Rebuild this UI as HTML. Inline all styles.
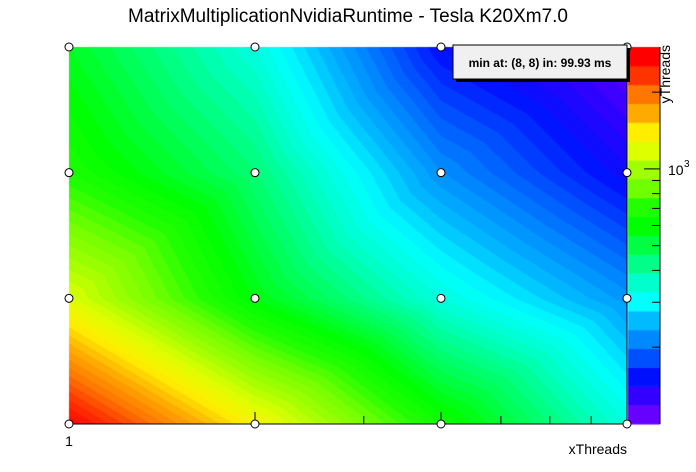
<!DOCTYPE html>
<html><head><meta charset="utf-8"><style>
body{margin:0;background:#fff;width:696px;height:472px;overflow:hidden;font-family:"Liberation Sans",sans-serif;}
#wrap{position:relative;width:696px;height:472px;}
canvas{position:absolute;left:0;top:0;}
</style></head><body>
<div id="wrap">
<canvas id="cv" width="696" height="472"></canvas>
<svg id="sv" width="696" height="472" style="position:absolute;left:0;top:0"></svg>
</div>
<script>
const xCats=[1,2,4,8];
const yCats=[1,2,4,8];
// rows: y=1,2,4,8 ; columns x=1,2,4,8 (ms)
const zRow1=[3000,1396,650,329];
const zRow2=[1240,577,329,215];
const zRow4=[685,440,210,135];
const zRow8=[548,329,140,99.93];
const zMin=99.93, zMax=3006;
const palette=["#6600ff","#3300ff","#0010ff","#0050ff","#0088ff","#00bbff","#00ffff","#00ffcc","#00ff88","#00ff44","#00ff00","#22ff00","#70ff00","#a0ff00","#ddff00","#ffee00","#ffaa00","#ff7700","#ff3300","#ff0000"];
const zTicksMinor=[200,300,400,500,600,700,800,900,2000];
const nContours=60;

const L=69,R=627,T=47,B=424;
const grid=[zRow1,zRow2,zRow4,zRow8];
const lx=v=>L+(Math.log2(v)-Math.log2(xCats[0]))/(Math.log2(xCats[3])-Math.log2(xCats[0]))*(R-L);
const ly=v=>B-(Math.log2(v)-Math.log2(yCats[0]))/(Math.log2(yCats[3])-Math.log2(yCats[0]))*(B-T);
const zy=v=>B-(Math.log10(v)-Math.log10(zMin))/(Math.log10(zMax)-Math.log10(zMin))*(B-T);
const frac=lv=>Math.max(0,Math.min(0.9999,(lv-Math.log10(zMin))/(Math.log10(zMax)-Math.log10(zMin))));
function hex(h){return [parseInt(h.substr(1,2),16),parseInt(h.substr(3,2),16),parseInt(h.substr(5,2),16)];}
const palRGB=palette.map(hex);
function colorAt(f){const q=Math.floor(f*nContours);const t=(q+0.5)/nContours*(palette.length-1);
 const a=Math.floor(t),b=Math.min(palette.length-1,a+1),u=t-a;const A=palRGB[a],Bc=palRGB[b];
 return 'rgb('+Math.round(A[0]+(Bc[0]-A[0])*u)+','+Math.round(A[1]+(Bc[1]-A[1])*u)+','+Math.round(A[2]+(Bc[2]-A[2])*u)+')';}

const ctx=document.getElementById('cv').getContext('2d');
const n=xCats.length-1;
const lg=grid.map(r=>r.map(v=>Math.log10(v)));
for(let py=T;py<B;py++){for(let px=L;px<R;px++){
  const gx=(px+0.5-L)/(R-L)*n, gy=(B-(py+0.5))/(B-T)*n;
  const i=Math.min(n-1,Math.floor(gx)), j=Math.min(n-1,Math.floor(gy));
  const fx=gx-i, fy=gy-j;
  let v;
  if(fx>=fy) v=lg[j][i]+(lg[j][i+1]-lg[j][i])*fx+(lg[j+1][i+1]-lg[j][i+1])*fy;
  else v=lg[j][i]+(lg[j+1][i]-lg[j][i])*fy+(lg[j+1][i+1]-lg[j+1][i])*fx;
  ctx.fillStyle=colorAt(frac(v));ctx.fillRect(px,py,1,1);
}}
const bh=(B-T)/palette.length;
for(let k=0;k<palette.length;k++){ctx.fillStyle=palette[k];ctx.fillRect(628,B-(k+1)*bh,32,bh+0.5);}

const sv=document.getElementById('sv');const NS='http://www.w3.org/2000/svg';
function mk(tag,at,txt){const e=document.createElementNS(NS,tag);for(const k in at)e.setAttribute(k,at[k]);if(txt!==undefined)e.textContent=txt;sv.appendChild(e);return e;}
let e;
e=mk('text',{x:348,y:22,'text-anchor':'middle','font-size':'19',fill:'#000'},'MatrixMultiplicationNvidiaRuntime - Tesla K20Xm7.0');


e=mk('line',{x1:L,y1:B,x2:R,y2:B,stroke:'#000'});


e=mk('line',{x1:R,y1:T,x2:R,y2:B,stroke:'#000'});


[2,3,4,5,6,7,8].forEach(v=>{const x=Math.log10(v)/Math.log10(8)*(R-L)+L;
 e=mk('line',{x1:x,y1:B,x2:x,y2:B-(v===2||v===4||v===8?12:8),stroke:'#000'});
 
 });
e=mk('text',{x:69,y:446,'text-anchor':'middle','font-size':'14'},'1');


e=mk('text',{x:627,y:454,'text-anchor':'end','font-size':'14'},'xThreads');


e=mk('text',{x:0,y:0,transform:'translate(670,45) rotate(-90)','text-anchor':'end','font-size':'14'},'yThreads');


e=mk('line',{x1:660,y1:T,x2:660,y2:B,stroke:'#000'});


zTicksMinor.forEach(v=>{e=mk('line',{x1:652,y1:zy(v),x2:660,y2:zy(v),stroke:'#000'});
 
 });
e=mk('line',{x1:644,y1:zy(1000),x2:660,y2:zy(1000),stroke:'#000'});


e=mk('text',{x:668,y:zy(1000)+6,'font-size':'14'},'10');


mk('text',{x:684,y:zy(1000)-2,'font-size':'10'},'3');
yCats.forEach(yv=>xCats.forEach(xv=>{e=mk('circle',{cx:lx(xv),cy:ly(yv),r:4,fill:'#fff',stroke:'#000'});
 
 }));
mk('rect',{x:456,y:48,width:174,height:34,fill:'#000'});
e=mk('rect',{x:453,y:45,width:174,height:34,fill:'#f0f0f0',stroke:'#000'});


e=mk('text',{x:540,y:67,'text-anchor':'middle','font-size':'12','font-weight':'bold'},'min at: (8, 8) in: 99.93 ms');


</script>
</body></html>
